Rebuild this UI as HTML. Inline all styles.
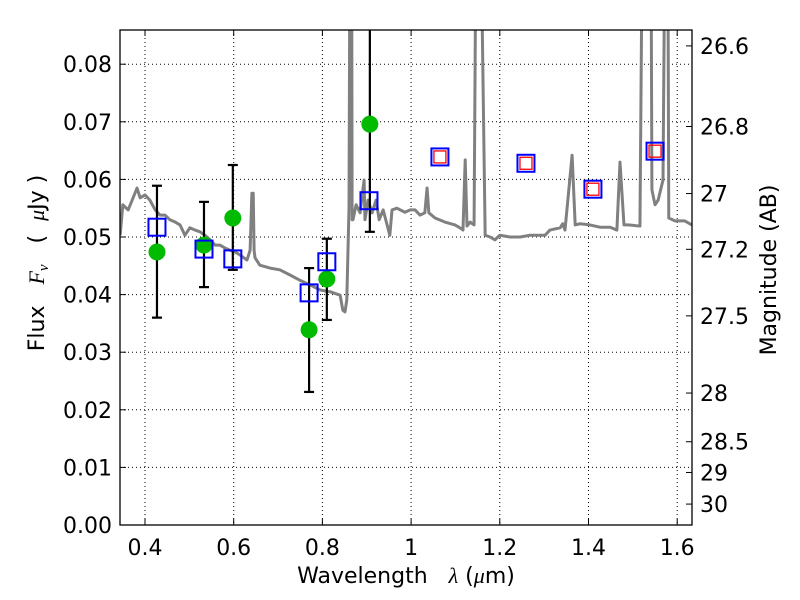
<!DOCTYPE html>
<html><head><meta charset="utf-8"><style>
body{margin:0;background:#fff}
svg{display:block;font-family:"DejaVu Sans","Liberation Sans",sans-serif}
</style></head><body>
<svg id="c" width="800" height="600"></svg>
<script>
const specWave=[0.344,0.350,0.362,0.371,0.382,0.389,0.400,0.411,0.423,0.434,0.445,0.456,0.468,0.479,0.490,0.501,0.513,0.524,0.535,0.547,0.558,0.569,0.580,0.592,0.603,0.614,0.630,0.637,0.641,0.644,0.646,0.648,0.659,0.682,0.704,0.727,0.749,0.772,0.795,0.817,0.840,0.846,0.851,0.855,0.860,0.862,0.866,0.867,0.869,0.876,0.885,0.894,0.896,0.903,0.912,0.921,0.928,0.937,0.952,0.957,0.968,0.986,0.998,1.009,1.020,1.031,1.036,1.040,1.054,1.076,1.099,1.110,1.117,1.122,1.126,1.133,1.142,1.146,1.158,1.167,1.178,1.189,1.200,1.223,1.246,1.268,1.302,1.313,1.336,1.342,1.347,1.363,1.370,1.381,1.403,1.426,1.449,1.464,1.471,1.480,1.489,1.516,1.521,1.541,1.543,1.550,1.557,1.568,1.572,1.579,1.581,1.595,1.617,1.633];
const specFlux=[0.0503,0.0556,0.0547,0.0564,0.0585,0.0568,0.0573,0.0564,0.0547,0.0538,0.0538,0.0530,0.0526,0.0521,0.0503,0.0516,0.0512,0.0509,0.0503,0.0495,0.0486,0.0486,0.0481,0.0477,0.0474,0.0469,0.0460,0.0477,0.0576,0.0576,0.0477,0.0464,0.0451,0.0446,0.0443,0.0434,0.0425,0.0417,0.0408,0.0405,0.0399,0.0373,0.0370,0.0391,0.0550,0.1,0.1,0.0530,0.0530,0.0556,0.0542,0.0599,0.0530,0.0564,0.0542,0.0564,0.0530,0.0547,0.0503,0.0547,0.0550,0.0543,0.0547,0.0547,0.0538,0.0542,0.0585,0.0542,0.0533,0.0526,0.0521,0.0516,0.0512,0.0634,0.0519,0.0526,0.0521,0.1,0.1,0.0503,0.0500,0.0495,0.0503,0.0500,0.0500,0.0503,0.0503,0.0512,0.0516,0.0523,0.0512,0.0642,0.0521,0.0523,0.0521,0.0517,0.0517,0.0512,0.0630,0.0521,0.0521,0.0519,0.1,0.1,0.0582,0.0556,0.0564,0.0599,0.1,0.1,0.0533,0.0528,0.0528,0.0521];
const photWave=[0.427,0.533,0.598,0.770,0.810,0.907];
const photFlux=[0.0474,0.0486,0.0533,0.0339,0.0427,0.0696];
const errLow=[0.0360,0.0413,0.0443,0.0231,0.0356,0.0509];
const errHigh=[0.0589,0.0561,0.0625,0.0446,0.0497,0.0950];
const modelWave=[0.427,0.533,0.598,0.770,0.810,0.905,1.065,1.259,1.410,1.550];
const modelFlux=[0.0517,0.0479,0.0462,0.0403,0.0457,0.0563,0.0639,0.0628,0.0583,0.0649];
const redWave=[1.065,1.259,1.410,1.550];
const redFlux=[0.0639,0.0628,0.0583,0.0649];
const xTicks=[0.4,0.6,0.8,1.0,1.2,1.4,1.6];
const xTickLabels=["0.4","0.6","0.8","1","1.2","1.4","1.6"];
const yTicks=[0,0.01,0.02,0.03,0.04,0.05,0.06,0.07,0.08];
const yTickLabels=["0.00","0.01","0.02","0.03","0.04","0.05","0.06","0.07","0.08"];
const magTicks=[26.6,26.8,27,27.2,27.5,28,28.5,29,30];
const magLabels=["26.6","26.8","27","27.2","27.5","28","28.5","29","30"];

const L=120,R=692,T=30,B=525;
const X=v=>145+(v-0.4)*443.5;
const Y=v=>B-v*5760;
const svg=document.getElementById('c');
const NS='http://www.w3.org/2000/svg';
function mk(tag,attrs,parent){const e=document.createElementNS(NS,tag);for(const k in attrs)e.setAttribute(k,attrs[k]);(parent||svg).appendChild(e);return e;}

const defs=mk('defs',{});
const cp=mk('clipPath',{id:'clip'},defs);mk('rect',{x:L,y:T,width:R-L,height:B-T},cp);

const grid=mk('g',{stroke:'#000','stroke-width':1,'stroke-dasharray':'1,3'});


xTicks.forEach(t=>mk('line',{x1:X(t),x2:X(t),y1:T,y2:B},grid));
yTicks.forEach(t=>mk('line',{x1:L,x2:R,y1:Y(t),y2:Y(t)},grid));

const plot=mk('g',{'clip-path':'url(#clip)'});
const sp=mk('polyline',{points:specWave.map((w,i)=>X(w)+','+Y(specFlux[i])).join(' '),fill:'none',stroke:'#808080','stroke-width':3,'stroke-linejoin':'round'},plot);


photWave.forEach((w,i)=>{
  const g=mk('g',{},plot);
  
  
  const x=X(w);
  mk('line',{x1:x,x2:x,y1:Y(errLow[i]),y2:Y(errHigh[i]),stroke:'#000','stroke-width':2.2},g);
  mk('line',{x1:x-5,x2:x+5,y1:Y(errLow[i]),y2:Y(errLow[i]),stroke:'#000','stroke-width':2.2},g);
  mk('line',{x1:x-5,x2:x+5,y1:Y(errHigh[i]),y2:Y(errHigh[i]),stroke:'#000','stroke-width':2.2},g);
  mk('circle',{cx:x,cy:Y(photFlux[i]),r:8.5,fill:'#00bb00'},g);
});
modelWave.forEach((w,i)=>{
  const r=mk('rect',{x:X(w)-8.5,y:Y(modelFlux[i])-8.5,width:17,height:17,fill:'none',stroke:'#0000ff','stroke-width':2},plot);
  
  
});
redWave.forEach((w,i)=>{
  const r=mk('rect',{x:X(w)-6,y:Y(redFlux[i])-6,width:12,height:12,fill:'none',stroke:'#ff0000','stroke-width':1.3},plot);
  
  
});

const fr=mk('rect',{x:L,y:T,width:R-L,height:B-T,fill:'none',stroke:'#000','stroke-width':1.3});



xTicks.forEach((t,i)=>{
  mk('line',{x1:X(t),x2:X(t),y1:B,y2:B-6,stroke:'#000'});
  mk('line',{x1:X(t),x2:X(t),y1:T,y2:T+6,stroke:'#000'});
  const tx=mk('text',{x:X(t),y:B+30,'font-size':22,'text-anchor':'middle'});
  tx.textContent=xTickLabels[i];
  
  
});
yTicks.forEach((t,i)=>{
  mk('line',{x1:L,x2:L+6,y1:Y(t),y2:Y(t),stroke:'#000'});
  const tx=mk('text',{x:L-8,y:Y(t)+8,'font-size':22,'text-anchor':'end'});
  tx.textContent=yTickLabels[i];
  
  
});
magTicks.forEach((m,i)=>{
  const y=Y(Math.pow(10,(23.9-m)/2.5));
  mk('line',{x1:R,x2:R-6,y1:y,y2:y,stroke:'#000'});
  const tx=mk('text',{x:R+8,y:y+8,'font-size':22});
  tx.textContent=magLabels[i];
  
  
});

const xl=mk('text',{x:406,y:583,'font-size':22,'text-anchor':'middle'});
xl.innerHTML='Wavelength\u00a0\u00a0\u00a0<tspan font-family="Liberation Serif" font-style="italic">λ</tspan>\u00a0(<tspan font-family="Liberation Serif" font-style="italic">μ</tspan>m)';


const yl=mk('text',{x:0,y:0,'font-size':22,'text-anchor':'middle',transform:'translate(44,263) rotate(-90)'});
yl.innerHTML='Flux\u00a0\u00a0\u00a0<tspan font-family="Liberation Serif" font-style="italic">F</tspan><tspan font-family="Liberation Serif" font-style="italic" font-size="15" dy="4">ν</tspan><tspan dy="-4">\u00a0\u00a0\u00a0(\u00a0\u00a0</tspan><tspan font-family="Liberation Serif" font-style="italic">μ</tspan>Jy\u00a0)';


const rl=mk('text',{x:0,y:0,'font-size':22,'text-anchor':'middle',transform:'translate(776,270) rotate(-90)'});
rl.textContent='Magnitude (AB)';


</script>
</body></html>
